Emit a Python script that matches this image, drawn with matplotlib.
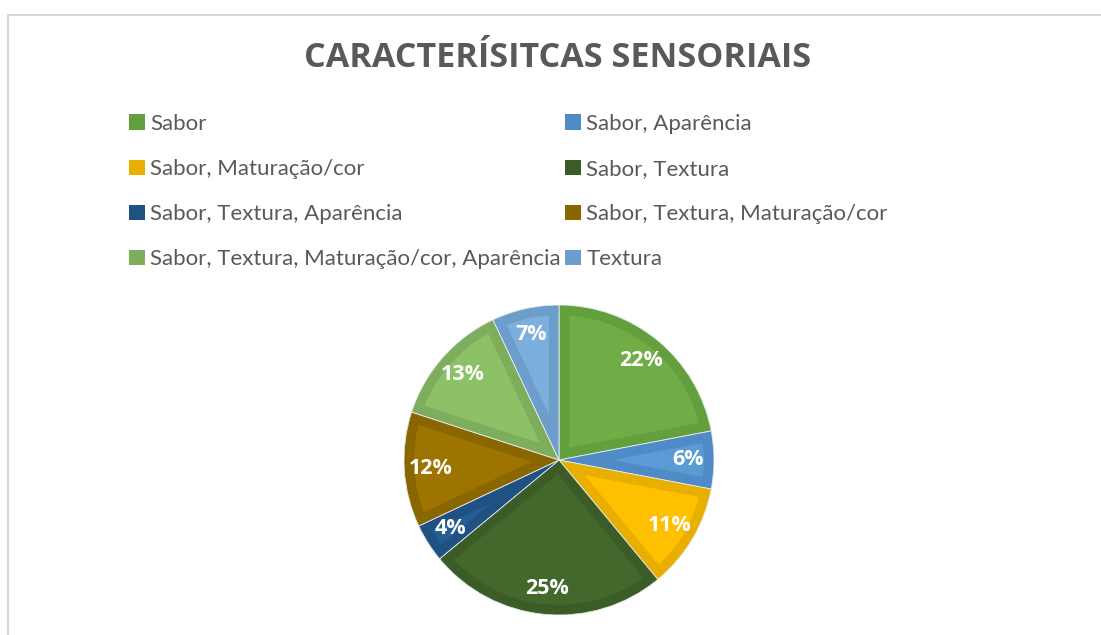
import matplotlib
matplotlib.use("Agg")
import matplotlib.pyplot as plt
from matplotlib.patches import Patch, Wedge
from matplotlib.lines import Line2D

categories = ["Sabor", "Sabor, Aparência", "Sabor, Maturação/cor", "Sabor, Textura",
              "Sabor, Textura, Aparência", "Sabor, Textura, Maturação/cor",
              "Sabor, Textura, Maturação/cor, Aparência", "Textura"]
values = [22, 6, 11, 25, 4, 12, 13, 7]
fill_colors = ["#70AD47", "#5B9BD5", "#FFC000", "#43682B",
               "#255E91", "#9E7400", "#8CC168", "#7CAFDD"]
edge_colors = ["#63A03D", "#4F8BC6", "#E8AE00", "#3B5C26",
               "#1F5282", "#8A6600", "#7EAD5E", "#6C9DCB"]
title = "CARACTERÍSITCAS SENSORIAIS"

W, H = 1101, 635
fig = plt.figure(figsize=(W / 100, H / 100), dpi=100)
fig.patch.set_facecolor("white")

# chart frame (top and left edges visible)
fig.add_artist(Line2D([8 / W, 1.0], [1 - 14.5 / H, 1 - 14.5 / H], color="#D9D9D9", lw=1.5))
fig.add_artist(Line2D([8 / W, 8 / W], [0, 1 - 14.5 / H], color="#D9D9D9", lw=1.5))

fig.text(558 / W, 1 - 58 / H, title, ha="center", va="center",
         fontsize=24.6, fontweight="bold", color="#595959", family="Open Sans")

# pie
cx, cy, r = 559, 460, 155
ax = fig.add_axes([(cx - r) / W, (H - cy - r) / H, 2 * r / W, 2 * r / H])

wedges, texts, autotexts = ax.pie(values, colors=fill_colors, startangle=90, counterclock=False,
                                  radius=1, autopct="%d%%", pctdistance=0.83,
                                  wedgeprops=dict(linewidth=0),
                                  textprops=dict(color="white", fontsize=15.5, fontweight="bold",
                                                 family="Open Sans"))
ax.set_xlim(-1, 1)
ax.set_ylim(-1, 1)
ax.set_aspect("equal")
ax.axis("off")
for w, ec in zip(wedges, edge_colors):
    w2 = Wedge(w.center, w.r, w.theta1, w.theta2,
               facecolor="none", edgecolor=ec, linewidth=14.5)
    ax.add_patch(w2)
    w2.set_clip_path(w)
    w3 = Wedge(w.center, w.r, w.theta1, w.theta2,
               facecolor="none", edgecolor="#E8EEF2", linewidth=0.6)
    ax.add_patch(w3)
for t in autotexts:
    t.set_zorder(5)

# legend (row-wise order in 2 columns)
handles = [Patch(facecolor=c, edgecolor="none") for c in edge_colors]
order = [0, 2, 4, 6, 1, 3, 5, 7]
leg = fig.legend([handles[i] for i in order], [categories[i] for i in order],
                 ncol=2, loc="upper left", bbox_to_anchor=(129 / W, 1 - 114 / H),
                 frameon=False, prop=dict(family="Lato", size=16),
                 handlelength=0.7, handleheight=0.7, handletextpad=0.25,
                 labelspacing=1.13, columnspacing=0.2, borderaxespad=0, borderpad=0)
for t in leg.get_texts():
    t.set_color("#595959")

fig.savefig("out.png", dpi=100, facecolor="white")
